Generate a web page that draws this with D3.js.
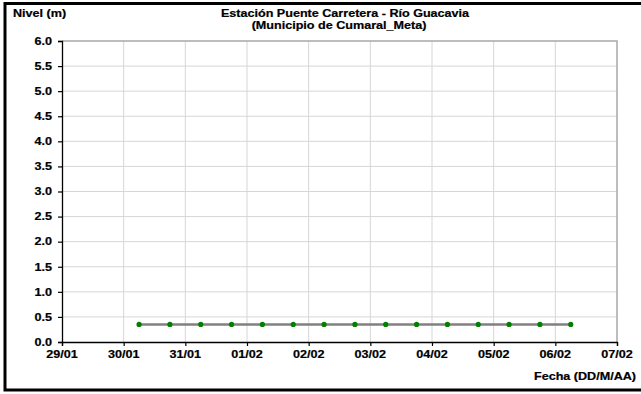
<!DOCTYPE html>
<html><head><meta charset="utf-8">
<script src="https://cdn.jsdelivr.net/npm/d3@7"></script>
<style>body{margin:0;background:#fff}svg{display:block}text{font-family:"Liberation Sans",Arial,sans-serif;font-weight:bold;fill:#000;stroke:#000;stroke-width:0.2px}</style>
</head><body>
<script>
const timestamps = ["2000-01-30T06:00","2000-01-30T18:00","2000-01-31T06:00","2000-01-31T18:00","2000-02-01T06:00","2000-02-01T18:00","2000-02-02T06:00","2000-02-02T18:00","2000-02-03T06:00","2000-02-03T18:00","2000-02-04T06:00","2000-02-04T18:00","2000-02-05T06:00","2000-02-05T18:00","2000-02-06T06:00"];
const levels = [0.35,0.35,0.35,0.35,0.35,0.35,0.35,0.35,0.35,0.35,0.35,0.35,0.35,0.35,0.35];
const xTickDates = ["2000-01-29","2000-01-30","2000-01-31","2000-02-01","2000-02-02","2000-02-03","2000-02-04","2000-02-05","2000-02-06","2000-02-07"];
const yTicks = [0,0.5,1,1.5,2,2.5,3,3.5,4,4.5,5,5.5,6];
const titleLines = ["Estación Puente Carretera - Río Guacavia","(Municipio de Cumaral_Meta)"];
const yLabel = "Nivel (m)";
const xLabel = "Fecha (DD/M/AA)";

const W=641,H=394;
const pL=62,pR=617,pT=41,pB=342;
const parse = s => new Date(s+(s.length>10?":00Z":"T00:00:00Z"));
const data = timestamps.map((t,i)=>({d:parse(t),v:levels[i]}));
const xt = xTickDates.map(parse);

const x = d3.scaleUtc().domain([xt[0],xt[xt.length-1]]).range([pL,pR]);
const y = d3.scaleLinear().domain([0,6]).range([pB,pT]);
const svg = d3.select("body").append("svg").attr("width",W).attr("height",H);
const SX=1.2, FS=10.5;
function txt(str,px,py,anchor){
  return svg.append("text").attr("transform",`translate(${px},${py}) scale(${SX},1)`)
    .attr("text-anchor",anchor).attr("font-size",FS).text(str);
}
// frame
svg.append("rect").attr("x",5).attr("y",3.5).attr("width",650).attr("height",386.5)
  .attr("fill","none").attr("stroke","#000").attr("stroke-width",3);
// grid
svg.append("g").selectAll("line").data(yTicks.filter(v=>v>0&&v<6)).join("line")
  .attr("x1",pL).attr("x2",pR).attr("y1",d=>y(d)).attr("y2",d=>y(d))
  .attr("stroke","#d6d6d6").attr("stroke-width",1);
svg.append("g").selectAll("line").data(xt.slice(1,-1)).join("line")
  .attr("x1",d=>x(d)).attr("x2",d=>x(d)).attr("y1",pT).attr("y2",pB)
  .attr("stroke","#d6d6d6").attr("stroke-width",1);
// plot border top/right
svg.append("path").attr("d",`M${pL},${y(6)}H${x(xt[xt.length-1])}V${pB}`)
  .attr("fill","none").attr("stroke","#a8a8a8").attr("stroke-width",1.5);
// axes
const yAxis = svg.append("g").attr("transform",`translate(${pL},0)`)
  .call(d3.axisLeft(y).tickValues(yTicks).tickSize(4).tickFormat(""));
const xAxis = svg.append("g").attr("transform",`translate(0,${pB})`)
  .call(d3.axisBottom(x).tickValues(xt).tickSize(4).tickFormat(""));
[yAxis,xAxis].forEach(g=>{g.select(".domain").attr("stroke","#000").attr("stroke-width",1.3);g.selectAll(".tick line").attr("stroke","#000").attr("stroke-width",1.2);});
// tick labels
yTicks.forEach(v=>txt(d3.format(".1f")(v),52,y(v)+3.8,"end"));
const fmt = d3.utcFormat("%d/%m");
xt.forEach(d=>txt(fmt(d),x(d),358,"middle"));
// series
svg.append("path").datum(data).attr("fill","none").attr("stroke","#808080").attr("stroke-width",2.5)
  .attr("d",d3.line().x(d=>x(d.d)).y(d=>y(d.v)));
svg.append("g").selectAll("circle").data(data).join("circle")
  .attr("cx",d=>x(d.d)).attr("cy",d=>y(d.v)).attr("r",2.6).attr("fill","#008000");
// labels
txt(yLabel,13,17,"start");
txt(titleLines[0],345,16.5,"middle");
txt(titleLines[1],339,28.5,"middle");
txt(xLabel,636,380,"end");
</script>
</body></html>
